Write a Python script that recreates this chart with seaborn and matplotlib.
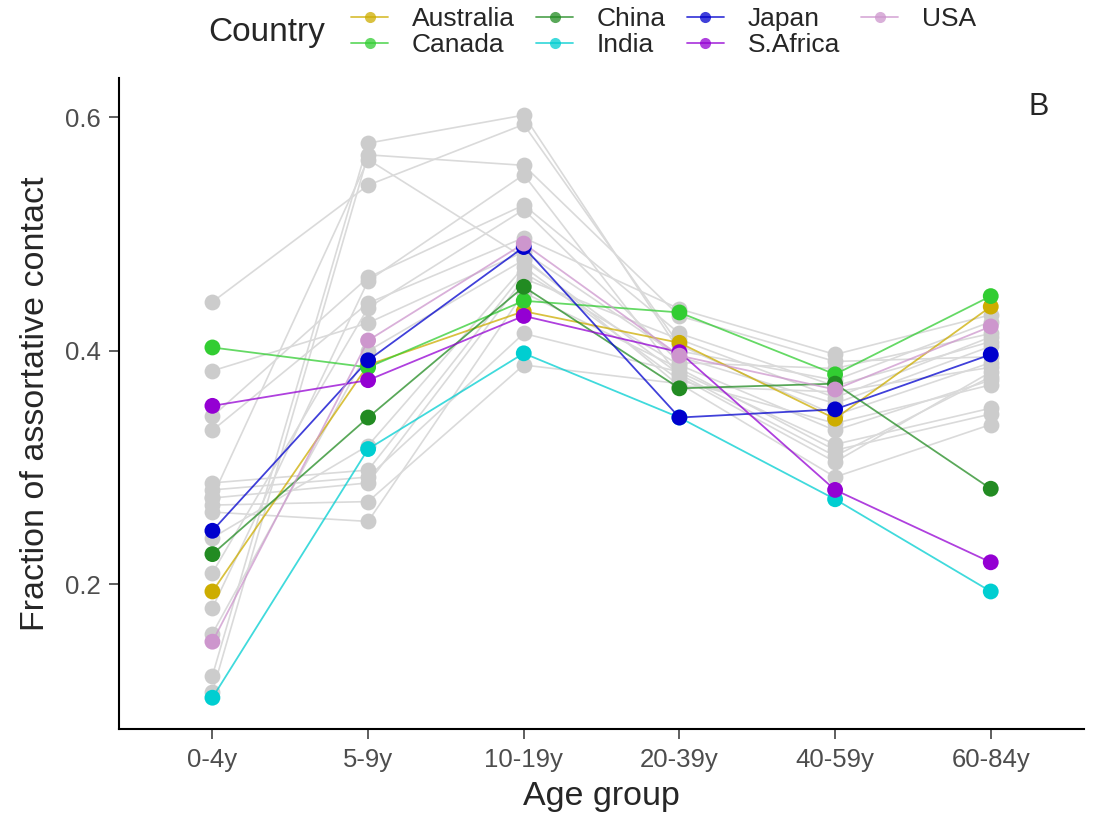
import numpy as np
import pandas as pd
import seaborn as sns
import matplotlib.pyplot as plt
from matplotlib.lines import Line2D

age_groups = ["0-4y", "5-9y", "10-19y", "20-39y", "40-59y", "60-84y"]

# highlighted countries
australia = [0.194, 0.388, 0.434, 0.407, 0.342, 0.438]
canada    = [0.403, 0.386, 0.443, 0.433, 0.380, 0.447]
china     = [0.226, 0.343, 0.455, 0.368, 0.372, 0.282]
india     = [0.103, 0.316, 0.398, 0.343, 0.273, 0.194]
japan     = [0.246, 0.392, 0.489, 0.343, 0.350, 0.397]
s_africa  = [0.353, 0.375, 0.430, 0.399, 0.281, 0.219]
usa       = [0.151, 0.409, 0.492, 0.396, 0.367, 0.421]

countries = ["Australia", "Canada", "China", "India", "Japan", "S.Africa", "USA"]
colors = ["#CDAD00", "#32CD32", "#228B22", "#00CED1", "#0000CD", "#9400D3", "#CD96CD"]

# other (grey) countries, one list per age group
grey_0_4   = [0.442, 0.383, 0.344, 0.332, 0.287, 0.281, 0.274, 0.268, 0.262, 0.240, 0.210, 0.180, 0.158, 0.122, 0.108, 0.275]
grey_5_9   = [0.542, 0.424, 0.463, 0.441, 0.298, 0.292, 0.287, 0.271, 0.254, 0.319, 0.437, 0.460, 0.400, 0.578, 0.568, 0.564]
grey_10_19 = [0.594, 0.485, 0.525, 0.497, 0.467, 0.415, 0.462, 0.388, 0.450, 0.472, 0.521, 0.551, 0.478, 0.602, 0.559, 0.480]
grey_20_39 = [0.405, 0.395, 0.415, 0.436, 0.388, 0.382, 0.410, 0.372, 0.385, 0.375, 0.390, 0.378, 0.380, 0.400, 0.430, 0.370]
grey_40_59 = [0.345, 0.355, 0.370, 0.397, 0.332, 0.320, 0.360, 0.292, 0.315, 0.338, 0.385, 0.305, 0.310, 0.375, 0.391, 0.365]
grey_60_84 = [0.390, 0.404, 0.408, 0.431, 0.375, 0.351, 0.412, 0.337, 0.346, 0.371, 0.415, 0.382, 0.378, 0.425, 0.395, 0.386]

sns.set_style("white")
plt.rcParams['font.family'] = ['Liberation Sans', 'DejaVu Sans']

grey_cols = [grey_0_4, grey_5_9, grey_10_19, grey_20_39, grey_40_59, grey_60_84]
rows = []
for g in range(len(grey_0_4)):
    for i, ag in enumerate(age_groups):
        rows.append({"country": f"other{g}", "pos": i + 1, "value": grey_cols[i][g]})
grey_df = pd.DataFrame(rows)

series = [australia, canada, china, india, japan, s_africa, usa]
rows = []
for c, vals in zip(countries, series):
    for i, v in enumerate(vals):
        rows.append({"country": c, "pos": i + 1, "value": v})
hl_df = pd.DataFrame(rows)
palette = dict(zip(countries, colors))

fig = plt.figure(figsize=(10.94, 8.16), dpi=100)
ax = fig.add_axes([0.1088, 0.1066, 0.8822, 0.7978])

sns.lineplot(data=grey_df, x="pos", y="value", units="country", estimator=None,
             color="#DADADA", lw=1.2, sort=False, ax=ax, legend=False)
sns.scatterplot(data=grey_df, x="pos", y="value", color="#CCCCCC", s=130,
                linewidth=0, ax=ax, legend=False, zorder=3)
sns.lineplot(data=hl_df, x="pos", y="value", hue="country", palette=palette,
             units="country", estimator=None, lw=1.3, alpha=0.75, sort=False,
             ax=ax, legend=False, zorder=4)
sns.scatterplot(data=hl_df, x="pos", y="value", hue="country", palette=palette,
                s=130, linewidth=0, ax=ax, legend=False, zorder=5)

ax.set_xlim(0.4, 6.6)
ax.set_ylim(0.0762, 0.6338)
ax.set_xticks(range(1, 7))
ax.set_xticklabels(age_groups)
ax.set_yticks([0.2, 0.4, 0.6])
ax.set_yticklabels(["0.2", "0.4", "0.6"])
ax.tick_params(axis="both", labelsize=18.5, labelcolor="#4D4D4D", length=7,
               width=1.1, color="#333333", direction="out", bottom=True, left=True)
ax.tick_params(axis="x", pad=7)
ax.tick_params(axis="y", pad=6)
ax.set_xlabel("Age group", fontsize=24.5, labelpad=6)
ax.set_ylabel("Fraction of assortative contact", fontsize=24.5, labelpad=10)
for s in ["top", "right"]:
    ax.spines[s].set_visible(False)
for s in ["left", "bottom"]:
    ax.spines[s].set_linewidth(1.5)
    ax.spines[s].set_color("black")

ax.text(0.942, 0.955, "B", transform=ax.transAxes, fontsize=22, ha="left", va="center")

handles = [Line2D([0], [0], color=c, lw=1.3, alpha=0.75, marker="o", markersize=8,
                  markerfacecolor=c, markeredgewidth=0) for c in colors]
fig.text(0.19, 0.96, "Country", fontsize=24, ha="left", va="center")
fig.legend(handles, countries, ncol=4, loc="center left", bbox_to_anchor=(0.309, 0.961),
           frameon=False, fontsize=19, handlelength=1.4, handletextpad=0.9,
           columnspacing=0.8, labelspacing=0.08, borderpad=0)

fig.savefig("out.png", dpi=100)
